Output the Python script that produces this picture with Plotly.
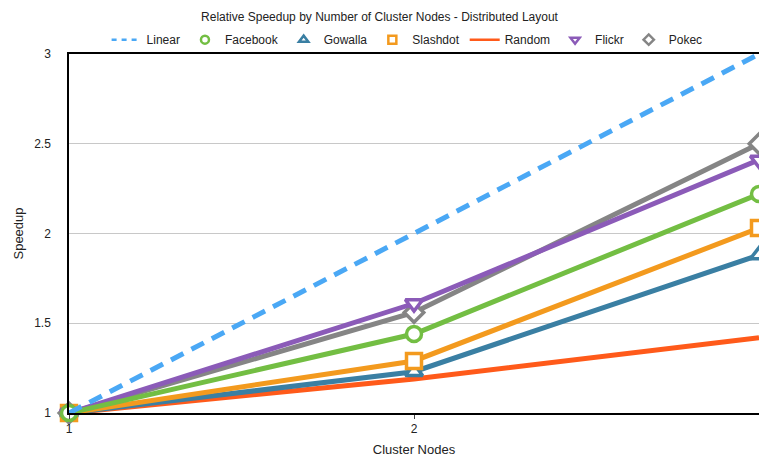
import plotly.graph_objects as go

nodes = [1, 2, 3]
linear = [1, 2, 3]
facebook = [1, 1.44, 2.22]
gowalla = [1, 1.23, 1.88]
slashdot = [1, 1.29, 2.03]
random_g = [1, 1.19, 1.42]
flickr = [1, 1.61, 2.41]
pokec = [1, 1.56, 2.50]

series = [
    # name, values, color, symbol, legend rank
    ("Random", random_g, "#FF5A1A", None, 5),
    ("Gowalla", gowalla, "#3A7FA3", "triangle-up", 3),
    ("Slashdot", slashdot, "#F39A1E", "square", 4),
    ("Pokec", pokec, "#858585", "diamond", 7),
    ("Flickr", flickr, "#8B5BB8", "triangle-down", 6),
    ("Facebook", facebook, "#73BE43", "circle", 2),
]

fig = go.Figure()
for name, vals, color, sym, rank in series:
    if sym is None:
        fig.add_trace(go.Scatter(x=nodes, y=vals, name=name, mode="lines",
                                 line=dict(color=color, width=5),
                                 showlegend=False, cliponaxis=False))
        # compact legend entry: short line
        fig.add_trace(go.Scatter(x=[None], y=[None], name=name, mode="lines",
                                 line=dict(color=color, width=2.5),
                                 legendrank=rank))
    else:
        fig.add_trace(go.Scatter(
            x=nodes, y=vals, name=name, mode="lines+markers",
            line=dict(color=color, width=5),
            marker=dict(symbol=sym, size=15, color="white",
                        line=dict(color=color, width=3.5)),
            showlegend=False, cliponaxis=False))
        # compact legend entry: small marker only
        fig.add_trace(go.Scatter(
            x=[None], y=[None], name=name, mode="markers",
            marker=dict(symbol=sym, size=8, color="white",
                        line=dict(color=color, width=2.5)),
            legendrank=rank))

fig.add_trace(go.Scatter(x=nodes, y=linear, name="Linear", mode="lines",
                         line=dict(color="#4AA8F5", width=5, dash="14px,9px"),
                         showlegend=False, cliponaxis=False))
fig.add_trace(go.Scatter(x=[None], y=[None], name="Linear", mode="lines",
                         line=dict(color="#4AA8F5", width=2.5, dash="5px,5px"),
                         legendrank=1))

fig.update_layout(
    width=759, height=457,
    margin=dict(l=69, r=0, t=54, b=44),
    paper_bgcolor="white", plot_bgcolor="white",
    font=dict(family="Liberation Sans, Arial, sans-serif", size=12, color="#222222"),
    title=dict(text="Relative Speedup by Number of Cluster Nodes - Distributed Layout",
               x=0.5, xanchor="center", y=1 - 17 / 457, yanchor="middle",
               yref="container", font=dict(size=12, color="#222222")),
    legend=dict(orientation="h", x=0.49, xanchor="center", y=1.04, yanchor="middle",
                font=dict(size=12), itemwidth=30, bgcolor="rgba(0,0,0,0)",
                entrywidth=0),
    showlegend=True,
)
fig.update_xaxes(range=[1, 3], tickvals=[1, 2, 3], ticktext=["1", "2", "3"],
                 showgrid=False, zeroline=False, showline=True, linecolor="black",
                 linewidth=1.5, mirror=True, ticks="outside", ticklen=4,
                 tickcolor="#444", title=dict(text="Cluster Nodes", standoff=10,
                                              font=dict(size=13)))
fig.update_yaxes(range=[1, 3], tickvals=[1, 1.5, 2, 2.5, 3],
                 ticktext=["1", "1.5", "2", "2.5", "3"],
                 showgrid=True, gridcolor="#C8C8C8", gridwidth=1, zeroline=False,
                 showline=True, linecolor="black", linewidth=1.5, mirror=False,
                 ticks="", ticklabelstandoff=14,
                 title=dict(text="Speedup", standoff=8, font=dict(size=13)))

fig.write_html("out.html")
